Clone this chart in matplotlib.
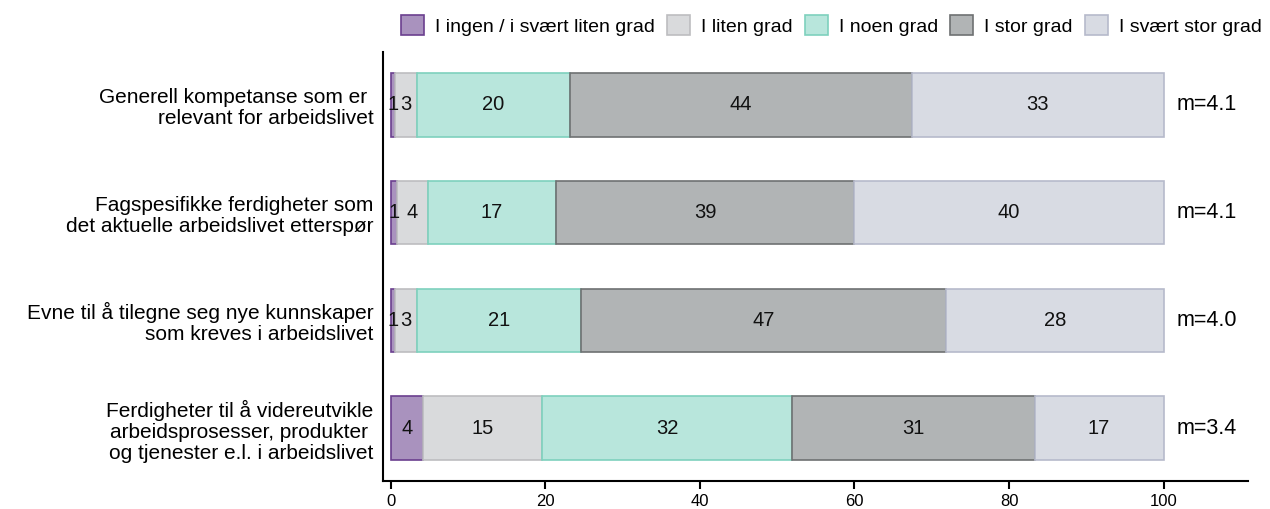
import matplotlib.pyplot as plt
import numpy as np

plt.rcParams['font.family'] = ['Liberation Sans', 'DejaVu Sans']

categories = [
    "Generell kompetanse som er \nrelevant for arbeidslivet",
    "Fagspesifikke ferdigheter som\ndet aktuelle arbeidslivet etterspør",
    "Evne til å tilegne seg nye kunnskaper\nsom kreves i arbeidslivet",
    "Ferdigheter til å videreutvikle\narbeidsprosesser, produkter \nog tjenester e.l. i arbeidslivet",
]
series_names = ["I ingen / i svært liten grad", "I liten grad", "I noen grad",
                "I stor grad", "I svært stor grad"]
ingen = [0.6, 0.85, 0.55, 4.2]
liten = [2.8, 3.95, 2.8, 15.4]
noen = [19.8, 16.6, 21.3, 32.3]
stor = [44.2, 38.6, 47.2, 31.4]
svaert_stor = [32.6, 40.0, 28.15, 16.7]
means = ["m=4.1", "m=4.1", "m=4.0", "m=3.4"]

fills = ["#A992BE", "#D9DADC", "#B8E6DC", "#B1B4B5", "#D8DBE3"]
edges = ["#6B3F8F", "#BDBDC0", "#7ED1BD", "#6E7172", "#B6BACB"]

fig = plt.figure(figsize=(12.7, 5.09), dpi=100)
ax = fig.add_axes([0.3016, 0.055, 0.681, 0.843])

y = np.arange(len(categories))
left = np.zeros(len(categories))
for name, vals, fc, ec in zip(series_names, [ingen, liten, noen, stor, svaert_stor], fills, edges):
    vals = np.array(vals)
    ax.barh(y, vals, left=left, height=0.59, color=fc, edgecolor=ec, linewidth=1.2, label=name)
    for yi, l, v in zip(y, left, vals):
        ax.text(l + v / 2, yi, f"{v:.0f}", ha='center', va='center', fontsize=14.5, color='#111111')
    left += vals

for yi, m in zip(y, means):
    ax.text(101.7, yi, m, ha='left', va='center', fontsize=15.5)

ax.set_xlim(-1.0, 110.9)
ax.set_ylim(3.49, -0.49)
ax.set_yticks(y)
ax.set_yticklabels(categories, fontsize=15, linespacing=1.13)
ax.tick_params(axis='y', length=0, pad=7)
ax.set_xticks([0, 20, 40, 60, 80, 100])
ax.tick_params(axis='x', length=6, width=1.5, labelsize=12, pad=3)
for s in ['top', 'right']:
    ax.spines[s].set_visible(False)
for s in ['left', 'bottom']:
    ax.spines[s].set_linewidth(1.5)

fig.legend(loc='center', bbox_to_anchor=(0.6547, 0.950), ncol=5, frameon=False,
           fontsize=14, handlelength=1.18, handleheight=1.18, handletextpad=0.57,
           columnspacing=0.62)

fig.savefig("out.png", dpi=100)
